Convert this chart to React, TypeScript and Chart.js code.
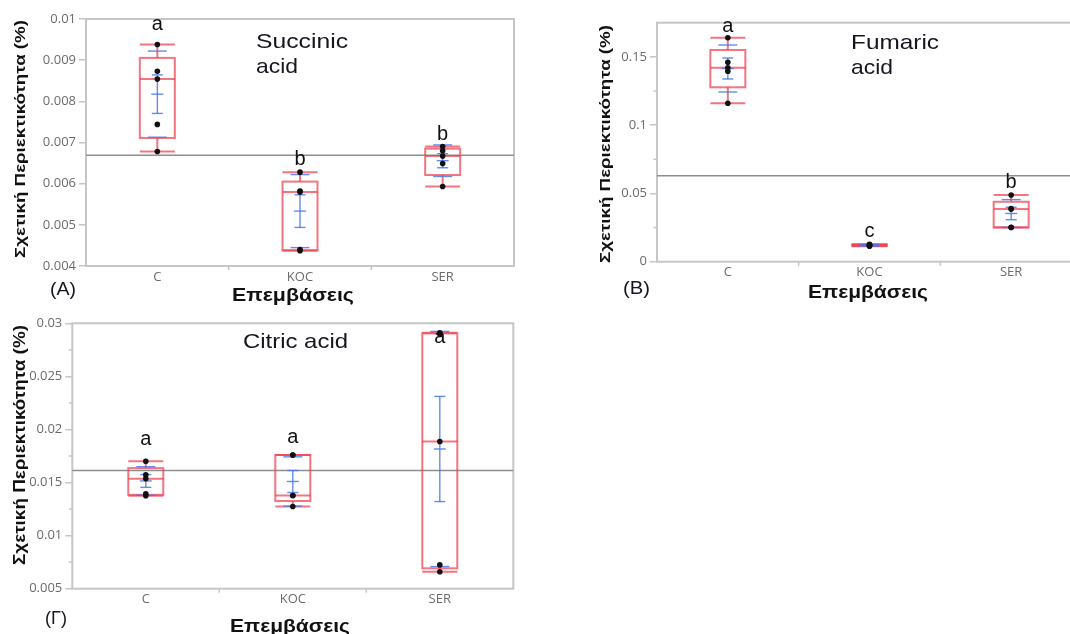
import React, { useEffect, useRef } from 'react';
import { Chart, registerables } from 'chart.js';

Chart.register(...registerables);

// ---------------- data ----------------
const categories = ['C', 'KOC', 'SER'];

const succinicC = [0.00938, 0.00873, 0.00854, 0.00744, 0.00678];
const succinicKOC = [0.00628, 0.00582, 0.0058, 0.0044, 0.00437];
const succinicSER = [0.0069, 0.0068, 0.00667, 0.00649, 0.00593];

const fumaricC = [0.164, 0.146, 0.142, 0.1394, 0.116];
const fumaricKOC = [0.0128, 0.0124, 0.0121, 0.0118, 0.0114];
const fumaricSER = [0.0488, 0.039, 0.0385, 0.0252, 0.025];

const citricC = [0.017, 0.01572, 0.01535, 0.01393, 0.01375];
const citricKOC = [0.0176, 0.0176, 0.01378, 0.01378, 0.01274];
const citricSER = [0.0291, 0.029, 0.01887, 0.00724, 0.0066];

const succinicLetters = ['a', 'b', 'b'];
const fumaricLetters = ['a', 'c', 'b'];
const citricLetters = ['a', 'a', 'a'];

const succinicTicks = [0.004, 0.005, 0.006, 0.007, 0.008, 0.009, 0.01];
const fumaricTicks = [0, 0.05, 0.1, 0.15];
const fumaricMinorTicks = [0.025, 0.075, 0.125];
const citricTicks = [0.005, 0.01, 0.015, 0.02, 0.025, 0.03];
const citricMinorTicks = [0.0075, 0.0125, 0.0175, 0.0225, 0.0275];

const yTitleText = 'Σχετική Περιεκτικότητα (%)';
const xTitleText = 'Επεμβάσεις';

// ---------------- statistics (JMP style) ----------------
function quantile(sorted: number[], p: number) {
  const n = sorted.length;
  const pos = (n + 1) * p;
  const lo = Math.floor(pos);
  const frac = pos - lo;
  if (lo < 1) return sorted[0];
  if (lo >= n) return sorted[n - 1];
  return sorted[lo - 1] + frac * (sorted[lo] - sorted[lo - 1]);
}

function stats(values: number[]) {
  const s = [...values].sort((a, b) => a - b);
  const n = s.length;
  const q1 = quantile(s, 0.25);
  const med = quantile(s, 0.5);
  const q3 = quantile(s, 0.75);
  const iqr = q3 - q1;
  const lowFence = q1 - 1.5 * iqr;
  const highFence = q3 + 1.5 * iqr;
  const wLow = Math.min(...s.filter((v) => v >= lowFence));
  const wHigh = Math.max(...s.filter((v) => v <= highFence));
  const mean = s.reduce((a, b) => a + b, 0) / n;
  const sd = Math.sqrt(s.reduce((a, b) => a + (b - mean) * (b - mean), 0) / (n - 1));
  const se = sd / Math.sqrt(n);
  return { q1, med, q3, wLow, wHigh, mean, sd, se };
}

// ---------------- layout ----------------
type TextItem = { text: string; x: number; y: number; w: number };
type PanelDef = {
  groups: number[][];
  letters: string[];
  ticks: number[];
  minor: number[];
  min: number;
  max: number;
  area: { left: number; top: number; right: number; bottom: number };
  canvasW: number;
  letterGap: number[];
  yTitle: { cx: number; cy: number; len: number; size: number };
  xTitle: TextItem;
  tag: TextItem;
  names: TextItem[];
};

const panels: PanelDef[] = [
  {
    groups: [succinicC, succinicKOC, succinicSER],
    letters: succinicLetters,
    ticks: succinicTicks,
    minor: [],
    min: 0.004,
    max: 0.01,
    area: { left: 86, top: 19, right: 514, bottom: 266 },
    canvasW: 1070,
    letterGap: [14.5, 7, 6.6],
    yTitle: { cx: 20.5, cy: 139, len: 238, size: 15 },
    xTitle: { text: xTitleText, x: 232, y: 301, w: 122 },
    tag: { text: '(A)', x: 50, y: 295, w: 26 },
    names: [
      { text: 'Succinic', x: 256, y: 47.5, w: 92 },
      { text: 'acid', x: 256, y: 72.5, w: 42 },
    ],
  },
  {
    groups: [fumaricC, fumaricKOC, fumaricSER],
    letters: fumaricLetters,
    ticks: fumaricTicks,
    minor: fumaricMinorTicks,
    min: 0,
    max: 0.175,
    area: { left: 657, top: 22.7, right: 1082, bottom: 261.7 },
    canvasW: 1100,
    letterGap: [6, 7.5, 6.7],
    yTitle: { cx: 606, cy: 144, len: 238, size: 15 },
    xTitle: { text: xTitleText, x: 808, y: 298, w: 120 },
    tag: { text: '(B)', x: 623, y: 294, w: 27 },
    names: [
      { text: 'Fumaric', x: 851, y: 49.3, w: 88 },
      { text: 'acid', x: 851, y: 74, w: 42 },
    ],
  },
  {
    groups: [citricC, citricKOC, citricSER],
    letters: citricLetters,
    ticks: citricTicks,
    minor: citricMinorTicks,
    min: 0.005,
    max: 0.03,
    area: { left: 72.3, top: 323.3, right: 513.3, bottom: 588.7 },
    canvasW: 1070,
    letterGap: [16.3, 11.6, -10.4],
    yTitle: { cx: 21, cy: 445, len: 240, size: 16 },
    xTitle: { text: xTitleText, x: 230, y: 632, w: 120 },
    tag: { text: '(Γ)', x: 45, y: 624, w: 22 },
    names: [{ text: 'Citric acid', x: 243, y: 348, w: 105 }],
  },
];

const PAGE_H = 634;
const Y_AXIS_W = 60;
const X_AXIS_H = 30;
const RED = 'rgba(238,64,80,0.72)';
const BLUE = 'rgba(70,120,235,0.85)';
const FRAME = '#c6c6c6';

function fitText(
  ctx: CanvasRenderingContext2D,
  text: string,
  x: number,
  y: number,
  w: number,
  font: string,
  color: string
) {
  ctx.save();
  ctx.font = font;
  ctx.fillStyle = color;
  const m = ctx.measureText(text).width || 1;
  ctx.translate(x, y);
  ctx.scale(w / m, 1);
  ctx.textAlign = 'left';
  ctx.textBaseline = 'alphabetic';
  ctx.fillText(text, 0, 0);
  ctx.restore();
}

function line(ctx: CanvasRenderingContext2D, x1: number, y1: number, x2: number, y2: number) {
  ctx.beginPath();
  ctx.moveTo(x1, y1);
  ctx.lineTo(x2, y2);
  ctx.stroke();
}

function makePlugin(p: PanelDef) {
  return {
    id: 'jmpBox',
    beforeDatasetsDraw(chart: any) {
      const { ctx, chartArea: a } = chart;
      const xs = chart.scales.x;
      const ys = chart.scales.y;
      ctx.save();
      // frame
      ctx.strokeStyle = FRAME;
      ctx.lineWidth = 2;
      ctx.strokeRect(a.left, a.top, a.right - a.left, a.bottom - a.top);
      // minor y ticks
      ctx.lineWidth = 1.5;
      p.minor.forEach((v) => {
        const py = ys.getPixelForValue(v);
        line(ctx, a.left - 3.5, py, a.left, py);
      });
      // category boundary ticks
      for (let i = 1; i < categories.length; i++) {
        const bx = xs.getPixelForValue(i - 0.5);
        line(ctx, bx, a.bottom, bx, a.bottom + 4);
      }
      // grand mean
      const all = p.groups.flat();
      const grand = all.reduce((s, v) => s + v, 0) / all.length;
      ctx.strokeStyle = '#8e8e8e';
      ctx.lineWidth = 1.5;
      const gy = ys.getPixelForValue(grand);
      line(ctx, a.left, gy, a.right, gy);

      p.groups.forEach((g, i) => {
        const st = stats(g);
        const cx = xs.getPixelForValue(i);
        const hw = 17.5;
        const Y = (v: number) => ys.getPixelForValue(v);
        // box plot
        ctx.strokeStyle = RED;
        ctx.lineWidth = 2;
        ctx.strokeRect(cx - hw, Y(st.q3), hw * 2, Y(st.q1) - Y(st.q3));
        line(ctx, cx - hw, Y(st.med), cx + hw, Y(st.med));
        line(ctx, cx, Y(st.q3), cx, Y(st.wHigh));
        line(ctx, cx, Y(st.q1), cx, Y(st.wLow));
        line(ctx, cx - hw, Y(st.wHigh), cx + hw, Y(st.wHigh));
        line(ctx, cx - hw, Y(st.wLow), cx + hw, Y(st.wLow));
        // mean, SE bars, SD lines
        ctx.strokeStyle = BLUE;
        ctx.lineWidth = 1.4;
        const top = Y(st.mean + st.se);
        const bot = Y(st.mean - st.se);
        line(ctx, cx, top, cx, bot);
        line(ctx, cx - 5.5, top, cx + 5.5, top);
        line(ctx, cx - 5.5, bot, cx + 5.5, bot);
        line(ctx, cx - 6, Y(st.mean), cx + 6, Y(st.mean));
        line(ctx, cx - 9.5, Y(st.mean + st.sd), cx + 9.5, Y(st.mean + st.sd));
        line(ctx, cx - 9.5, Y(st.mean - st.sd), cx + 9.5, Y(st.mean - st.sd));
      });
      ctx.restore();
    },
    afterDraw(chart: any) {
      const { ctx } = chart;
      const xs = chart.scales.x;
      const ys = chart.scales.y;
      // significance letters
      ctx.save();
      ctx.font = '20px "Liberation Sans", Arial, sans-serif';
      ctx.fillStyle = '#111';
      ctx.textAlign = 'center';
      ctx.textBaseline = 'alphabetic';
      p.groups.forEach((g, i) => {
        const st = stats(g);
        const cx = xs.getPixelForValue(i);
        ctx.fillText(p.letters[i], cx, ys.getPixelForValue(st.wHigh) - p.letterGap[i]);
      });
      ctx.restore();
      // acid name
      p.names.forEach((t) =>
        fitText(ctx, t.text, t.x, t.y, t.w, '21px "Liberation Sans", Arial, sans-serif', '#15151f')
      );
      // panel tag
      fitText(ctx, p.tag.text, p.tag.x, p.tag.y, p.tag.w, '19px "Liberation Sans", Arial, sans-serif', '#15151f');
      // x title
      fitText(ctx, p.xTitle.text, p.xTitle.x, p.xTitle.y, p.xTitle.w, 'bold 19px "Liberation Sans", Arial, sans-serif', '#111');
      // y title
      ctx.save();
      ctx.font = `bold ${p.yTitle.size}px "Liberation Sans", Arial, sans-serif`;
      ctx.fillStyle = '#111';
      const m = ctx.measureText(yTitleText).width || 1;
      ctx.translate(p.yTitle.cx, p.yTitle.cy);
      ctx.rotate(-Math.PI / 2);
      ctx.scale(p.yTitle.len / m, 1);
      ctx.textAlign = 'center';
      ctx.textBaseline = 'middle';
      ctx.fillText(yTitleText, 0, 0);
      ctx.restore();
    },
  };
}

function Panel({ p }: { p: PanelDef }) {
  const ref = useRef<HTMLCanvasElement>(null);
  useEffect(() => {
    if (!ref.current) return;
    const pts = p.groups.flatMap((g, i) => g.map((v) => ({ x: i, y: v })));
    const chart = new Chart(ref.current, {
      type: 'scatter',
      data: {
        datasets: [
          {
            data: pts,
            pointRadius: 2.8,
            pointBackgroundColor: '#111',
            pointBorderColor: '#111',
            pointBorderWidth: 0,
          },
        ],
      },
      options: {
        responsive: false,
        animation: false,
        events: [],
        layout: {
          padding: {
            left: p.area.left - Y_AXIS_W,
            top: p.area.top,
            right: p.canvasW - p.area.right,
            bottom: PAGE_H - p.area.bottom - X_AXIS_H,
          },
        },
        plugins: { legend: { display: false }, tooltip: { enabled: false } },
        scales: {
          x: {
            type: 'linear',
            min: -0.5,
            max: 2.5,
            afterBuildTicks: (s: any) => {
              s.ticks = categories.map((_, i) => ({ value: i }));
            },
            grid: { display: false, drawTicks: false, tickLength: 0 },
            border: { display: false },
            ticks: {
              autoSkip: false,
              maxRotation: 0,
              padding: 3,
              color: '#6b6b6b',
              font: { family: '"Open Sans", sans-serif', size: 13 },
              callback: (_v: any, i: number) => categories[i],
            },
            afterFit: (s: any) => {
              s.height = X_AXIS_H;
            },
          },
          y: {
            type: 'linear',
            min: p.min,
            max: p.max,
            afterBuildTicks: (s: any) => {
              s.ticks = p.ticks.map((v) => ({ value: v }));
            },
            grid: { drawOnChartArea: false, tickLength: 7, color: FRAME, lineWidth: 1.5 },
            border: { display: false },
            ticks: {
              autoSkip: false,
              padding: 3,
              color: '#6b6b6b',
              font: { family: '"Open Sans", sans-serif', size: 13 },
              callback: (v: any) => String(parseFloat(Number(v).toFixed(5))),
            },
            afterFit: (s: any) => {
              s.width = Y_AXIS_W;
            },
          },
        },
      },
      plugins: [makePlugin(p)],
    } as any);
    return () => chart.destroy();
  }, [p]);
  return (
    <canvas
      ref={ref}
      width={p.canvasW}
      height={PAGE_H}
      style={{ position: 'absolute', left: 0, top: 0, width: p.canvasW, height: PAGE_H }}
    />
  );
}

export default function App() {
  return (
    <div
      style={{
        position: 'absolute',
        left: 0,
        top: 0,
        width: 1070,
        height: PAGE_H,
        overflow: 'hidden',
        background: '#fff',
      }}
    >
      {panels.map((p, i) => (
        <Panel key={i} p={p} />
      ))}
    </div>
  );
}
